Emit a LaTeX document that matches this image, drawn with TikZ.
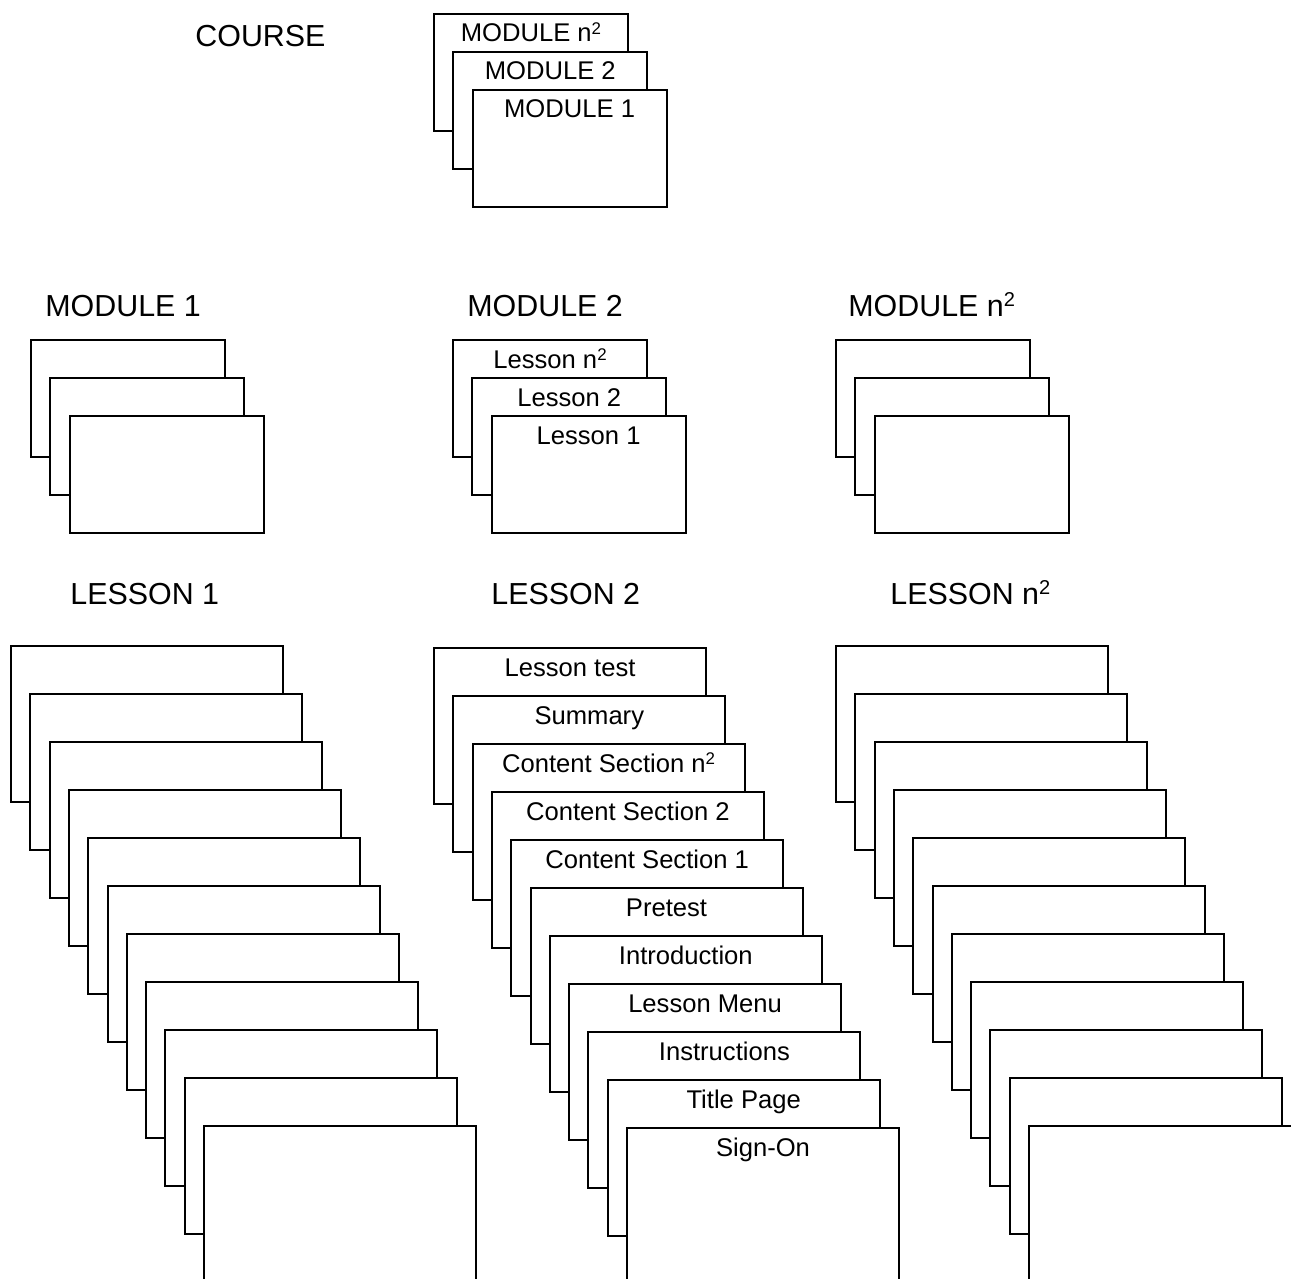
\documentclass[tikz,border=0pt]{standalone}
\usepackage{fontspec}
\setmainfont{Liberation Sans}
\usetikzlibrary{positioning}
\newcommand{\nsq}{n\raisebox{0.3em}{\scalebox{0.66}{2}}}
\tikzset{
	heading/.style  ={anchor=base west, inner sep=0pt, font=\fontsize{15.2}{18}\selectfont},
	sheet/.style    ={rectangle, draw=black, line width=1pt, fill=white, anchor=north west, inner sep=0pt},
	modpage/.style  ={sheet, minimum width=97pt, minimum height=58.5pt},
	lespage/.style  ={sheet, minimum width=136pt, minimum height=78pt},
	% text printed near the top edge of a sheet
	pagetitle/.style={label={[anchor=base, inner sep=0pt, yshift=-14.5pt, font=\fontsize{12.8}{15}\selectfont]north:#1}},
}
\begin{document}
\begin{tikzpicture}[x=0.5pt, y=-0.5pt]
	\path[use as bounding box, clip] (0,0) rectangle (1291,1279);
	\node[heading] (hCourse) at (195,47) {COURSE};
	\node[heading] (hModA) at (45,316) {MODULE 1};
	\node[heading] (hModB) at (467,316) {MODULE 2};
	\node[heading] (hModC) at (848,316) {MODULE \nsq};
	\node[heading] (hLesA) at (70,604) {LESSON 1};
	\node[heading] (hLesB) at (491,604) {LESSON 2};
	\node[heading] (hLesC) at (890,604) {LESSON \nsq};
	\foreach \t [count=\i from 0] in {MODULE \nsq, MODULE 2, MODULE 1}
		\node[modpage, pagetitle=\t] (c\i) at ({433+19.3*\i},{13+38*\i}) {};
	\foreach \x/\m in {30/mA, 835/mC}
		\foreach \i in {0,1,2}
			\node[modpage] (\m\i) at ({\x+19.3*\i},{339+38*\i}) {};
	\foreach \t [count=\i from 0] in {Lesson \nsq, Lesson 2, Lesson 1}
		\node[modpage, pagetitle=\t] (mB\i) at ({452+19.3*\i},{339+38*\i}) {};
	\foreach \x/\l in {10/lA, 835/lC}
		\foreach \i in {0,...,10}
			\node[lespage] (\l\i) at ({\x+19.3*\i},{645+48*\i}) {};
	\foreach \t [count=\i from 0] in {Lesson test, Summary, Content Section \nsq, Content Section 2, Content Section 1, Pretest, Introduction, Lesson Menu, Instructions, Title Page, Sign-On}
		\node[lespage, pagetitle=\t] (lB\i) at ({433+19.3*\i},{647+48*\i}) {};
\end{tikzpicture}
\end{document}
